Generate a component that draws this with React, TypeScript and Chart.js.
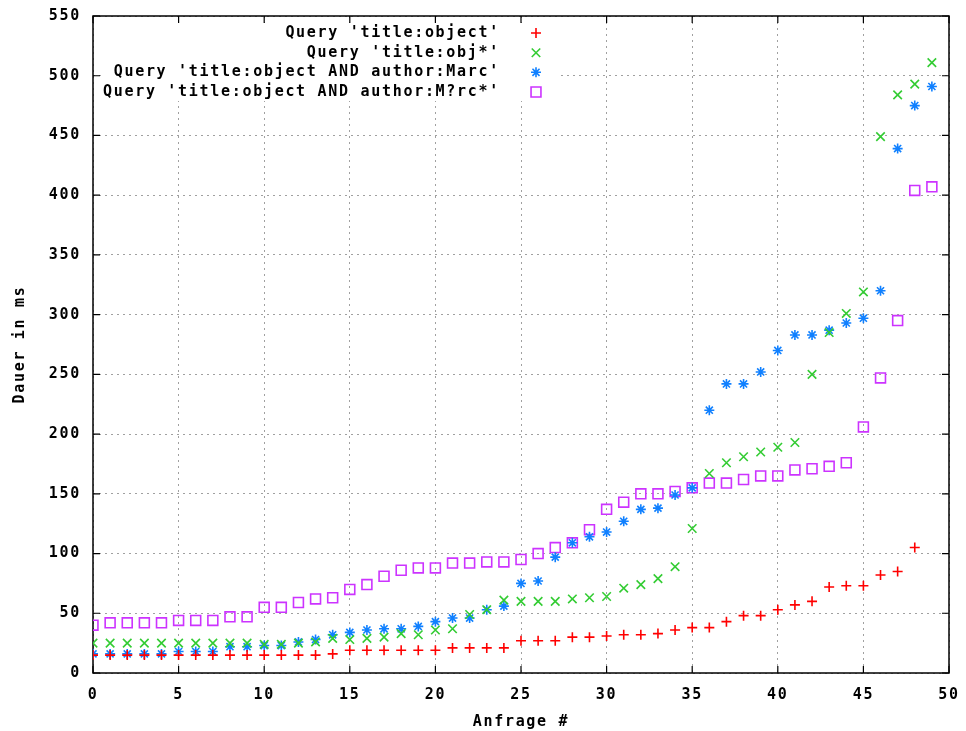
import React, { useEffect, useRef } from "react";
import { Chart, registerables } from "chart.js";

Chart.register(...registerables);

const queryIndex = [
  0, 1, 2, 3, 4, 5, 6, 7, 8, 9, 10, 11, 12, 13, 14, 15, 16, 17, 18, 19,
  20, 21, 22, 23, 24, 25, 26, 27, 28, 29, 30, 31, 32, 33, 34, 35, 36, 37, 38, 39,
  40, 41, 42, 43, 44, 45, 46, 47, 48, 49,
];

const seriesNames = [
  "Query 'title:object'",
  "Query 'title:obj*'",
  "Query 'title:object AND author:Marc'",
  "Query 'title:object AND author:M?rc*'",
];

const titleObject = [
  15, 15, 15, 15, 15, 15, 15, 15, 15, 15, 15, 15, 15, 15, 16, 19, 19, 19, 19, 19,
  19, 21, 21, 21, 21, 27, 27, 27, 30, 30, 31, 32, 32, 33, 36, 38, 38, 43, 48, 48,
  53, 57, 60, 72, 73, 73, 82, 85, 105,
];

const titleObjWildcard = [
  25, 25, 25, 25, 25, 25, 25, 25, 25, 25, 24, 24, 25, 26, 29, 28, 29, 30, 33, 32,
  36, 37, 49, 53, 61, 60, 60, 60, 62, 63, 64, 71, 74, 79, 89, 121, 167, 176, 181, 185,
  189, 193, 250, 285, 301, 319, 449, 484, 493, 511,
];

const titleAndMarc = [
  16, 16, 16, 16, 16, 18, 18, 18, 22, 22, 23, 23, 26, 28, 32, 34, 36, 37, 37, 39,
  43, 46, 46, 53, 56, 75, 77, 97, 109, 114, 118, 127, 137, 138, 149, 155, 220, 242, 242, 252,
  270, 283, 283, 287, 293, 297, 320, 439, 475, 491,
];

const titleAndMrcWildcard = [
  40, 42, 42, 42, 42, 44, 44, 44, 47, 47, 55, 55, 59, 62, 63, 70, 74, 81, 86, 88,
  88, 92, 92, 93, 93, 95, 100, 105, 109, 120, 137, 143, 150, 150, 152, 155, 159, 159, 162, 165,
  165, 170, 171, 173, 176, 206, 247, 295, 404, 407,
];

const xTicks = [0, 5, 10, 15, 20, 25, 30, 35, 40, 45, 50];
const yTicks = [0, 50, 100, 150, 200, 250, 300, 350, 400, 450, 500, 550];

const colors = ["#ff0000", "#33cc33", "#1080ff", "#cc33ff"];
const styles = ["cross", "crossRot", "star", "rect"];
const radii = [5, 6, 5, 7];

const FONT = "'DejaVu Sans Mono', monospace";
const FSIZE = 15;
const LS = "1.7px";

function toPoints(values: number[]) {
  return values.map((v, i) => ({ x: queryIndex[i], y: v }));
}

function drawMarker(ctx: CanvasRenderingContext2D, style: string, x: number, y: number, r: number) {
  ctx.beginPath();
  if (style === "cross" || style === "star") {
    ctx.moveTo(x - r, y);
    ctx.lineTo(x + r, y);
    ctx.moveTo(x, y - r);
    ctx.lineTo(x, y + r);
  }
  if (style === "crossRot" || style === "star") {
    const d = r * Math.SQRT1_2;
    ctx.moveTo(x - d, y - d);
    ctx.lineTo(x + d, y + d);
    ctx.moveTo(x - d, y + d);
    ctx.lineTo(x + d, y - d);
  }
  if (style === "rect") {
    const s = r * Math.SQRT1_2;
    ctx.rect(x - s, y - s, 2 * s, 2 * s);
  }
  ctx.stroke();
}

const spacingPlugin = {
  id: "spacing",
  beforeLayout(chart: any) {
    chart.ctx.letterSpacing = LS;
  },
  beforeDraw(chart: any) {
    chart.ctx.letterSpacing = LS;
  },
};

const framePlugin = {
  id: "frame",
  beforeDatasetsDraw(chart: any) {
    const ctx: CanvasRenderingContext2D = chart.ctx;
    const { left, right, top, bottom } = chart.chartArea;
    const xs = chart.scales.x;
    const ys = chart.scales.y;
    ctx.save();
    // key area clears the grid
    ctx.fillStyle = "#ffffff";
    ctx.fillRect(left + 8, top + 7, 560 - left - 8, 101 - top - 7);
    // border
    ctx.strokeStyle = "#000000";
    ctx.lineWidth = 1.5;
    ctx.strokeRect(left, top, right - left, bottom - top);
    // inward ticks
    ctx.lineWidth = 1.2;
    ctx.beginPath();
    const tl = 7;
    xTicks.forEach((t) => {
      const px = xs.getPixelForValue(t);
      ctx.moveTo(px, bottom);
      ctx.lineTo(px, bottom - tl);
      ctx.moveTo(px, top);
      ctx.lineTo(px, top + tl);
    });
    yTicks.forEach((t) => {
      const py = ys.getPixelForValue(t);
      ctx.moveTo(left, py);
      ctx.lineTo(left + tl, py);
      ctx.moveTo(right, py);
      ctx.lineTo(right - tl, py);
    });
    ctx.stroke();
    // legend
    (ctx as any).letterSpacing = LS;
    ctx.font = `bold ${FSIZE}px ${FONT}`;
    ctx.fillStyle = "#000000";
    ctx.textAlign = "right";
    ctx.textBaseline = "middle";
    const rowsY = [33, 52.7, 72.3, 92];
    seriesNames.forEach((name, i) => {
      ctx.fillText(name, 500, rowsY[i]);
      ctx.strokeStyle = colors[i];
      ctx.lineWidth = 1.6;
      drawMarker(ctx, styles[i], 536, rowsY[i], radii[i]);
    });
    ctx.restore();
  },
};

export default function App() {
  const ref = useRef<HTMLCanvasElement | null>(null);
  useEffect(() => {
    document.body.style.margin = "0";
    const canvas = ref.current!;
    const seriesData = [titleObject, titleObjWildcard, titleAndMarc, titleAndMrcWildcard];
    const tickFont = { family: FONT, size: FSIZE, weight: "bold" };
    const chart = new Chart(canvas, {
      type: "scatter",
      data: {
        datasets: seriesData.map((vals, i) => ({
          label: seriesNames[i],
          data: toPoints(vals),
          pointStyle: styles[i] as any,
          pointRadius: radii[i],
          pointHoverRadius: radii[i],
          borderColor: colors[i],
          backgroundColor: "rgba(0,0,0,0)",
          pointBorderWidth: 1.6,
          borderWidth: 1.6,
          showLine: false,
        })),
      },
      options: {
        animation: false,
        responsive: false,
        devicePixelRatio: 1,
        layout: { padding: { top: 16, right: 17, left: 0, bottom: 0 } },
        plugins: {
          legend: { display: false },
          tooltip: { enabled: false },
        },
        scales: {
          x: {
            type: "linear",
            min: 0,
            max: 50,
            afterFit(scale: any) {
              scale.height = 58;
              scale.paddingLeft = 0;
              scale.paddingRight = 0;
            },
            afterBuildTicks(scale: any) {
              scale.ticks = xTicks.map((v) => ({ value: v }));
            },
            ticks: {
              autoSkip: false,
              maxRotation: 0,
              padding: 13,
              color: "#000000",
              font: tickFont,
            },
            grid: {
              drawTicks: false,
              color: "#a0a0a0",
              lineWidth: 1,
            },
            border: { display: false, dash: [2, 4] },
            title: {
              display: true,
              text: "Anfrage #",
              color: "#000000",
              font: tickFont,
              padding: { top: 0, bottom: 0 },
            },
          },
          y: {
            type: "linear",
            min: 0,
            max: 550,
            afterFit(scale: any) {
              scale.width = 93;
              scale.paddingTop = 0;
              scale.paddingBottom = 0;
            },
            afterBuildTicks(scale: any) {
              scale.ticks = yTicks.map((v) => ({ value: v }));
            },
            ticks: {
              autoSkip: false,
              padding: 12,
              color: "#000000",
              font: tickFont,
            },
            grid: {
              drawTicks: false,
              color: "#a0a0a0",
              lineWidth: 1,
            },
            border: { display: false, dash: [2, 4] },
            title: {
              display: true,
              text: "Dauer in ms",
              color: "#000000",
              font: tickFont,
              padding: { top: 11, bottom: 0 },
            },
          },
        },
      },
      plugins: [spacingPlugin, framePlugin],
    } as any);
    return () => chart.destroy();
  }, []);
  return (
    <div style={{ width: 966, height: 731 }}>
      <canvas ref={ref} width={966} height={731} />
    </div>
  );
}
